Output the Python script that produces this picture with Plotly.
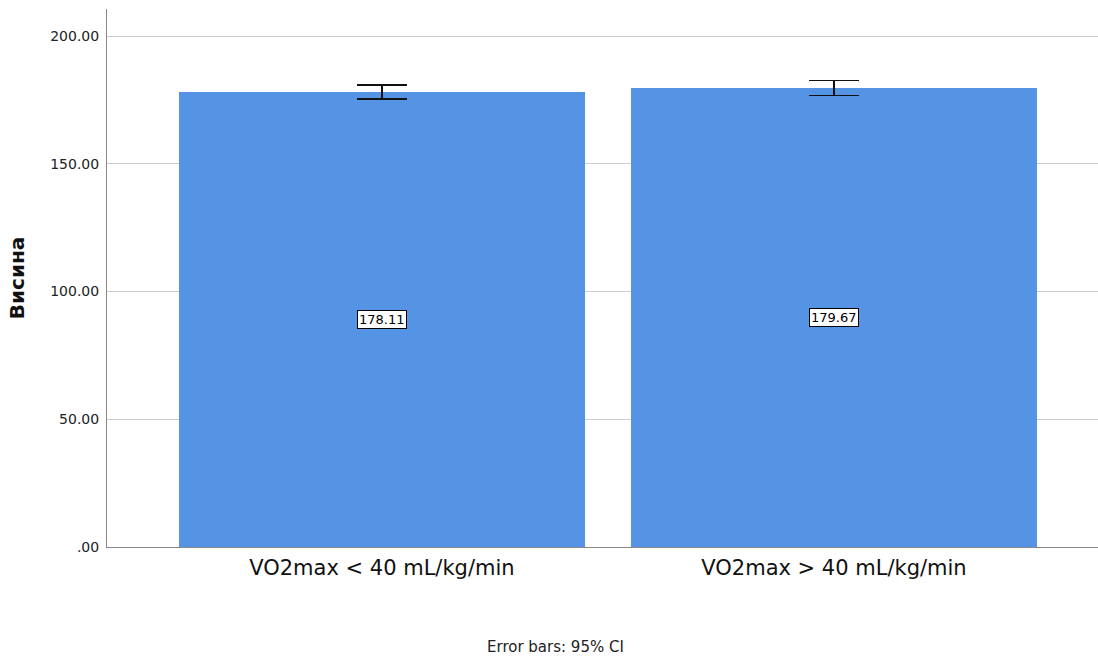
import plotly.graph_objects as go

categories = ["VO2max < 40 mL/kg/min", "VO2max > 40 mL/kg/min"]
means = [178.11, 179.67]
ci_half = [2.7, 3.0]
ytick_vals = [0, 50, 100, 150, 200]
ytick_text = [".00", "50.00", "100.00", "150.00", "200.00"]

FONT = "DejaVu Sans"
xpos = list(range(len(categories)))

fig = go.Figure()
fig.add_trace(go.Bar(
    x=xpos, y=means, width=0.898,
    marker=dict(color="#5594E4", line=dict(width=0)),
    error_y=dict(type="data", array=ci_half, visible=True, color="#111111", thickness=1.5, width=25),
    hoverinfo="skip",
))

for xi, m in zip(xpos, means):
    fig.add_annotation(
        x=xi, y=m / 2, text=f"{m:.2f}", showarrow=False,
        font=dict(family=FONT, size=13, color="#000000"),
        bgcolor="#ffffff", bordercolor="#000000", borderwidth=1, borderpad=1,
    )

fig.add_annotation(
    x=(555 - 107) / 991, xref="paper", y=-(658 - 547) / (547 - 9), yref="paper",
    text="Error bars: 95% CI", showarrow=False,
    font=dict(family=FONT, size=15, color="#222222"),
)

fig.update_layout(
    width=1098, height=660,
    margin=dict(l=107, r=0, t=9, b=113),
    paper_bgcolor="white", plot_bgcolor="white",
    showlegend=False,
    bargap=0,
    xaxis=dict(
        range=[-0.608, 1.584], tickvals=xpos, ticktext=categories,
        showgrid=False, zeroline=False, showline=True, linecolor="#888888", linewidth=1,
        ticks="", tickfont=dict(family=FONT, size=21, color="#111111"),
        ticklabelstandoff=2,
    ),
    yaxis=dict(
        range=[0, 210.6], tickvals=ytick_vals, ticktext=ytick_text,
        showgrid=True, gridcolor="#cccccc", gridwidth=1, zeroline=False,
        showline=True, linecolor="#888888", linewidth=1, ticks="",
        tickfont=dict(family=FONT, size=14, color="#222222"),
        ticklabelstandoff=4,
        title=dict(text="<b>Висина</b>", font=dict(family=FONT, size=20, color="#111111"), standoff=20),
    ),
)

fig.write_html("out.html")
